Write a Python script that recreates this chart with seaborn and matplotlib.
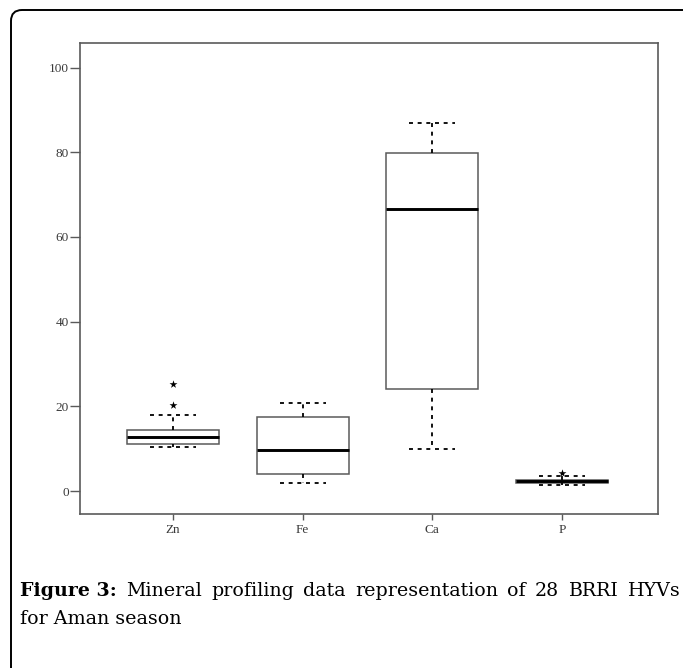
import numpy as np
import pandas as pd
import matplotlib
matplotlib.use("Agg")
import matplotlib.pyplot as plt
import seaborn as sns
from matplotlib.patches import FancyBboxPatch

# ---- data ----
minerals = ["Zn", "Fe", "Ca", "P"]
# five-number summaries: lower whisker, Q1, median, Q3, upper whisker
zn_box = [10.3, 11.1, 12.7, 14.4, 17.9]
fe_box = [2.0, 4.0, 9.8, 17.5, 20.9]
ca_box = [9.9, 24.0, 66.7, 79.9, 86.9]
p_box = [1.5, 2.0, 2.3, 2.6, 3.5]
outlier_minerals = ["Zn", "Zn", "P"]
outlier_values = [20.3, 25.2, 4.3]
y_ticks = [0, 20, 40, 60, 80, 100]
caption_bold = "Figure 3:"
caption_line1 = "Mineral profiling data representation of 28 BRRI HYVs"
caption_line2 = "for Aman season"

W, H = 683, 668
sns.set_style("ticks")
plt.rcParams['font.family'] = ['Liberation Serif', 'DejaVu Serif']
plt.rcParams['text.color'] = 'black'

fig = plt.figure(figsize=(W / 100, H / 100), dpi=100)
ax = fig.add_axes([80 / W, 1 - 514 / H, (658 - 80) / W, (514 - 43.4) / H])

df = pd.DataFrame({
    "mineral": np.repeat(minerals, 5),
    "value": zn_box + fe_box + ca_box + p_box,
})

dash = (0, (2.2, 2.6))
sns.boxplot(
    data=df, x="mineral", y="value", order=minerals, whis=(0, 100),
    width=0.71, color="white", linecolor="#5a5a5a", linewidth=1.1,
    showfliers=False,
    medianprops=dict(color="black", linewidth=2.1),
    whiskerprops=dict(color="black", linestyle=dash, linewidth=1.3),
    capprops=dict(color="black", linestyle=dash, linewidth=1.3),
    ax=ax,
)
sns.stripplot(
    x=outlier_minerals, y=outlier_values, order=minerals, jitter=False,
    marker="*", color="black", size=6, linewidth=0, ax=ax,
)

ax.set_xlim(-0.717, 3.74)
ax.set_ylim(-5.4, 105.7)
ax.set_yticks(y_ticks)
ax.set_xlabel("")
ax.set_ylabel("")
for s in ax.spines.values():
    s.set_visible(True)
    s.set_color("#5a5a5a")
    s.set_linewidth(1.2)
ax.tick_params(axis="both", width=1.0, color="#5a5a5a",
               labelsize=9.5, labelcolor="#3a3a3a")
ax.tick_params(axis="y", length=7, pad=1)
ax.tick_params(axis="x", length=4, pad=3)

# ---- outer frame (top and left border with rounded corner) ----
frame = FancyBboxPatch((0.11, -1.0), 9.0, (H - 10) / 100 + 1.0,
                       boxstyle="round,pad=0,rounding_size=0.11",
                       transform=fig.dpi_scale_trans, fill=False,
                       lw=1.4, ec="black", clip_on=False)
fig.add_artist(frame)

# ---- caption ----
fig.canvas.draw()
r = fig.canvas.get_renderer()
cap_font = ["DejaVu Serif"]
# choose font size so that line 2 matches the reference width (~162 px)
probe = fig.text(0, 0, caption_line2, fontsize=12, family=cap_font)
w12 = probe.get_window_extent(r).width
probe.remove()
fs = 12 * 160 / w12

y1 = (H - 596) / H
y2 = (H - 624) / H
x0 = 20
x1 = 680
tb = fig.text(x0 / W, y1, caption_bold, fontsize=fs, fontweight="bold",
              family=cap_font, va="baseline", color="black")
bw = tb.get_window_extent(r).width
words = caption_line1.split()
arts = [fig.text(0, y1, w_, fontsize=fs, family=cap_font, va="baseline",
                 color="black") for w_ in words]
widths = [a.get_window_extent(r).width for a in arts]
gap = (x1 - x0 - bw - sum(widths)) / len(words)
x = x0 + bw + gap
for a, wd in zip(arts, widths):
    a.set_x(x / W)
    x += wd + gap
fig.text(x0 / W, y2, caption_line2, fontsize=fs, family=cap_font,
         va="baseline", color="black")

fig.savefig("out.png", dpi=100)
